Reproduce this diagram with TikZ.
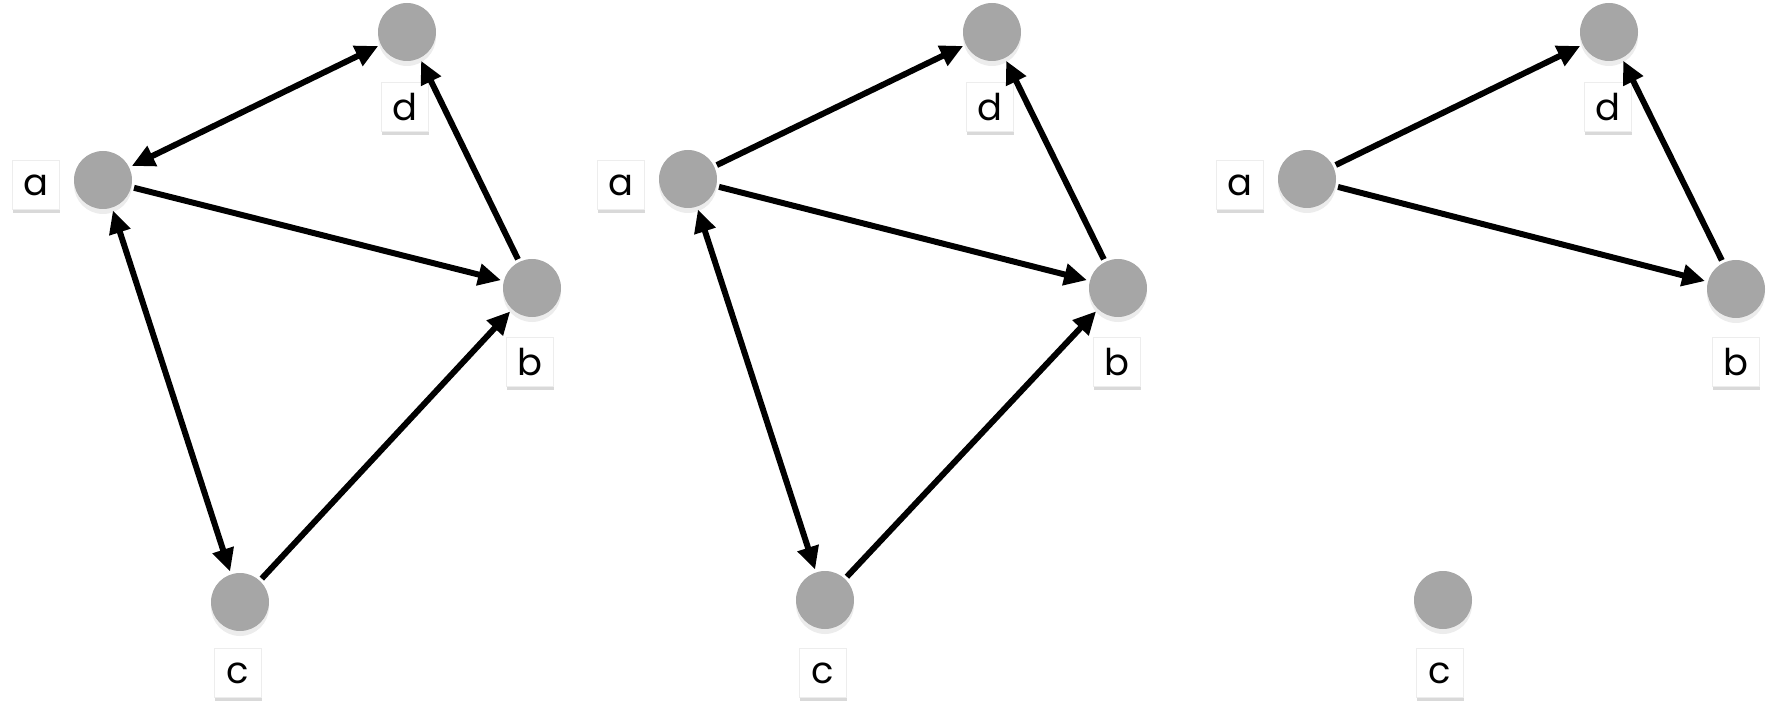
\documentclass[tikz,border=0pt]{standalone}
\usepackage{fontspec}
\setmainfont{Poppins}
\usetikzlibrary{arrows.meta,shadows}

\definecolor{vertexgray}{RGB}{166,166,166}

\begin{document}
\begin{tikzpicture}[every node/.style={align=center,font=\fontsize{10.5}{12}\selectfont},
vertex/.style={fill=vertexgray,circle,inner sep=0pt,minimum size=0.58cm,drop shadow={shadow xshift=0pt,shadow yshift=-0.5mm,opacity=0.15}},
tag/.style={fill=white,draw=black!7,line width=0.4pt,inner sep=0pt,minimum width=0.47cm,minimum height=0.49cm,drop shadow={shadow xshift=0pt,shadow yshift=-0.9pt,opacity=0.3}},
>={Triangle[length=6.5pt,width=6pt]}, line width=1.7pt]
\useasboundingbox (0,0) rectangle (17.72,7.24);
%================================================================
%	Nodes
\node[style=vertex] (a1) at (1.03,5.44) {};
\node[style=vertex] (d1) at (4.07,6.92) {};
\node[style=vertex] (b1) at (5.32,4.36) {};
\node[style=vertex] (c1) at (2.40,1.22) {};
\node[style=tag] (la1) at (0.36,5.39) {a};
\node[style=tag] (ld1) at (4.05,6.17) {d};
\node[style=tag] (lb1) at (5.30,3.62) {b};
\node[style=tag] (lc1) at (2.38,0.51) {c};
%----------------------------------------------------------------
\node[style=vertex] (a2) at (6.88,5.45) {};
\node[style=vertex] (d2) at (9.92,6.92) {};
\node[style=vertex] (b2) at (11.18,4.36) {};
\node[style=vertex] (c2) at (8.25,1.24) {};
\node[style=tag] (la2) at (6.21,5.39) {a};
\node[style=tag] (ld2) at (9.90,6.17) {d};
\node[style=tag] (lb2) at (11.17,3.62) {b};
\node[style=tag] (lc2) at (8.23,0.51) {c};
%----------------------------------------------------------------
\node[style=vertex] (a3) at (13.07,5.45) {};
\node[style=vertex] (d3) at (16.09,6.92) {};
\node[style=vertex] (b3) at (17.36,4.35) {};
\node[style=vertex] (c3) at (14.43,1.24) {};
\node[style=tag] (la3) at (12.40,5.39) {a};
\node[style=tag] (ld3) at (16.08,6.17) {d};
\node[style=tag] (lb3) at (17.36,3.62) {b};
\node[style=tag] (lc3) at (14.40,0.51) {c};

%================================================================
%	Lines
\draw[<->] (a1) -- (d1);
\draw[->] (a1) -- (b1);
\draw[->] (b1) -- (d1);
\draw[<->] (a1) -- (c1);
\draw[->] (c1) -- (b1);
%----------------------------------------------------------------
\draw[->] (a2) -- (d2);
\draw[->] (a2) -- (b2);
\draw[->] (b2) -- (d2);
\draw[<->] (a2) -- (c2);
\draw[->] (c2) -- (b2);
%----------------------------------------------------------------
\draw[->] (a3) -- (d3);
\draw[->] (a3) -- (b3);
\draw[->] (b3) -- (d3);
%================================================================
\end{tikzpicture}
\end{document}
